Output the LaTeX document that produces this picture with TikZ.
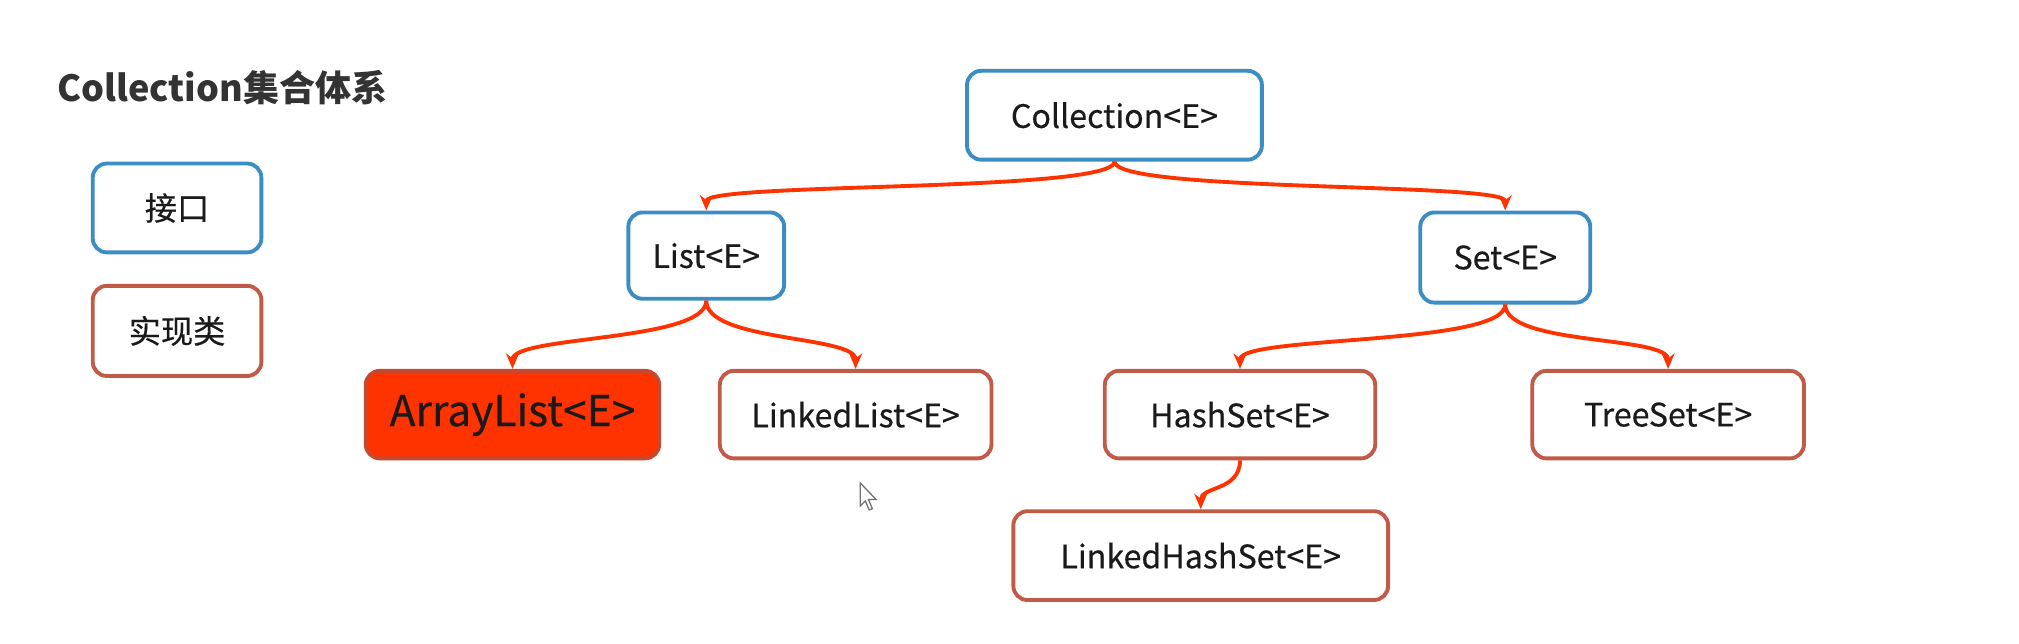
\documentclass[tikz,border=0pt]{standalone}
\usepackage{fontspec}
\setmainfont{Noto Sans CJK SC}
\newfontfamily\medfont{Noto Sans CJK SC}[FakeBold=0.4]
\usetikzlibrary{arrows.meta}
\definecolor{ifblue}{HTML}{3C8DC4}
\definecolor{clsred}{HTML}{C25A48}
\definecolor{linkred}{HTML}{FF3300}
\definecolor{hotfill}{HTML}{FF3300}
\definecolor{hotdraw}{HTML}{C8482F}
\definecolor{txt}{HTML}{1A1A1A}
\tikzset{
  box/.style={draw, line width=3pt, rounded corners=11pt, inner sep=0pt, align=center, text=txt, font=\medfont\fontsize{25}{28}\selectfont},
  ifbox/.style={box, draw=ifblue},
  clsbox/.style={box, draw=clsred},
  hotbox/.style={box, draw=hotdraw, fill=hotfill, font=\medfont\fontsize{33}{36}\selectfont},
  link/.style={draw=linkred, line width=3pt, -{Stealth[length=12pt,width=10pt]}},
}
\begin{document}
\begin{tikzpicture}[x=1pt,y=-1pt]
\useasboundingbox (0,0) rectangle (1568,500);
\fill[white] (0,0) rectangle (1568,500);
\node[anchor=west, text=black!80, font=\bfseries\fontsize{28}{31}\selectfont] (title) at (41,68) {Collection集合体系};
\node[ifbox, minimum width=131pt, minimum height=69pt] (lg1) at (137.5,161.5) {接口};
\node[clsbox, minimum width=131pt, minimum height=70pt] (lg2) at (137.5,257) {实现类};
\node[ifbox, minimum width=229pt, minimum height=69pt] (coll) at (865.5,89.5) {Collection<E>};
\node[ifbox, minimum width=121pt, minimum height=67pt] (list) at (548.5,198.5) {List<E>};
\node[ifbox, minimum width=132pt, minimum height=70pt] (set) at (1169,200) {Set<E>};
\node[hotbox, minimum width=228pt, minimum height=68pt] (arr) at (398,322) {ArrayList<E>};
\node[clsbox, minimum width=211pt, minimum height=68pt] (ll) at (664.5,322) {LinkedList<E>};
\node[clsbox, minimum width=210pt, minimum height=68pt] (hs) at (963,322) {HashSet<E>};
\node[clsbox, minimum width=211pt, minimum height=68pt] (ts) at (1295.5,322) {TreeSet<E>};
\node[clsbox, minimum width=291pt, minimum height=69pt] (lhs) at (932.5,431.5) {LinkedHashSet<E>};
\draw[link] (coll.south) .. controls +(0,24) and +(0,-22) .. (list.north);
\draw[link] (coll.south) .. controls +(0,24) and +(0,-22) .. (set.north);
\draw[link] (list.south) .. controls +(0,32) and +(0,-26) .. (arr.north);
\draw[link] (list.south) .. controls +(0,32) and +(0,-26) .. (ll.north);
\draw[link] (set.south) .. controls +(0,32) and +(0,-26) .. (hs.north);
\draw[link] (set.south) .. controls +(0,32) and +(0,-26) .. (ts.north);
\draw[link] (hs.south) .. controls +(0,24) and +(0,-18) .. (lhs.north);
\coordinate (cur) at (668,375);
\draw[black!55, line width=1pt, fill=white] (cur) -- ++(0,18) -- ++(4,-4) -- ++(3,7) -- ++(2.5,-1) -- ++(-3,-7) -- ++(6,0) -- cycle;
\end{tikzpicture}
\end{document}
